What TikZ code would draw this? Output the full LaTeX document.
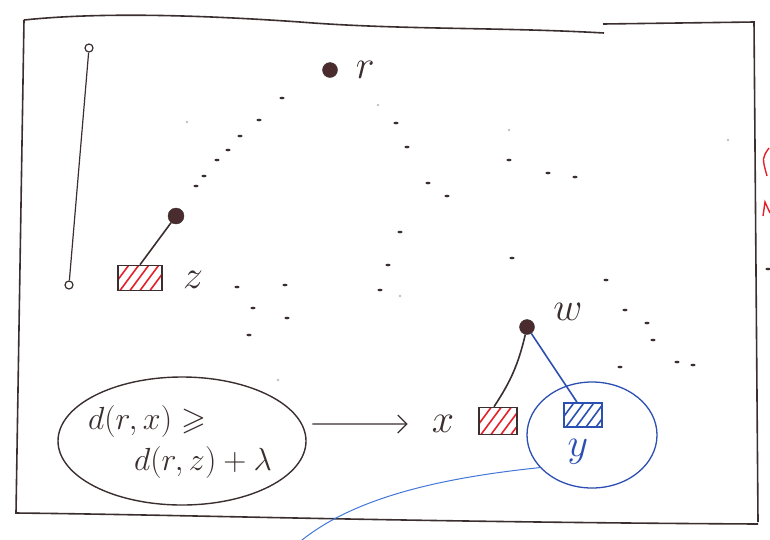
\RequirePackage{fix-cm}
\documentclass[tikz,border=0pt]{standalone}
\usepackage{amsmath,amssymb}
\usepackage{xcolor}
\usepackage{tikz}
\usetikzlibrary{arrows.meta,positioning,shapes.geometric}
\definecolor{inkdark}{HTML}{3A2E2E}
\definecolor{inkred}{HTML}{E4202C}
\definecolor{inkblue}{HTML}{2C4FB2}
\definecolor{penblue}{HTML}{4277D8}
\definecolor{dotbrown}{HTML}{4A2C2E}

\tikzset{
  vtx/.style={circle,fill=dotbrown,draw=inkdark,inner sep=0pt,minimum size=15pt},
  endpt/.style={circle,draw=inkdark,fill=white,line width=1.2pt,inner sep=0pt,minimum size=8pt},
  leafbox/.style={draw=#1,line width=1.6pt,minimum width=40pt,minimum height=25pt,inner sep=0pt},
  hatch/.style={path picture={\foreach \k in {0,...,4}{%
      \draw[#1,line width=1.6pt] ([xshift=\k*10pt-8pt]path picture bounding box.south west) -- ++(20pt,27pt);}}},
  lbl/.style={font=\fontsize{40}{44}\selectfont,text=inkdark,inner sep=2pt},
}

\begin{document}
\begin{tikzpicture}[x=1pt,y=-1pt,>={Straight Barb[length=9pt,width=18pt]}]
  \useasboundingbox (0,0) rectangle (770,539);
  % frame
  \draw[inkdark,line width=1.6pt] (24,20) .. controls (100,12) and (200,15) .. (300,22)
    .. controls (400,30) and (500,27) .. (604,33);
  \draw[inkdark,line width=1.6pt] (603,24) -- (754,22) -- (758,522);
  \draw[inkdark,line width=1.6pt] (24,20) -- (16,513) .. controls (200,515) and (400,522) .. (758,524);
  % red marks past the edge
  \draw[inkred,line width=1.4pt] (769,148) .. controls (762,158) .. (767,176);
  \draw[inkred,line width=1.4pt] (763,216) -- (765,202) -- (770,213);

  % left bar
  \node[endpt] (top) at (89,48) {};
  \node[endpt] (bot) at (69,285) {};
  \draw[inkdark,line width=1.2pt] (top) -- (bot);

  % root
  \node[vtx] (r) at (330,70) {};
  \node[lbl,right=16pt of r] (rl) {$r$};

  % z
  \node[vtx,minimum size=16pt] (zp) at (176,216) {};
  \node[leafbox=inkdark,hatch=inkred,minimum width=44pt] (zb) at (140,278) {};
  \node[lbl] (zl) at (193,280) {$z$};
  \draw[inkdark,line width=1.6pt] (zp) -- (zb.north);

  % w, x, y
  \node[vtx] (w) at (527,327) {};
  \node[lbl] (wl) at (568,312) {$w$};
  \node[leafbox=inkdark,hatch=inkred,minimum width=38pt,minimum height=27pt] (xb) at (498,421) {};
  \node[lbl] (xl) at (443,424) {$x$};
  \node[leafbox=inkblue,hatch=inkblue,minimum width=38pt,minimum height=24pt] (yb) at (583,415) {};
  \node[lbl,text=inkblue] (yl) at (578,452) {$y$};
  \draw[inkdark,line width=1.6pt] (w) to[bend left=10] ([xshift=-4pt]xb.north);
  \draw[inkblue,line width=1.6pt] (w) -- ([xshift=-6pt]yb.north);
  \node[draw=inkblue,line width=1.3pt,ellipse,minimum width=130pt,minimum height=106pt] (ycirc) at (592,435) {};
  \coordinate (tail) at (296,545);
  \draw[penblue,line width=1pt] (ycirc.212) .. controls (440,478) and (350,498) .. (tail);

  % condition
  \node[draw=inkdark,line width=1.4pt,ellipse,minimum width=248pt,minimum height=128pt] (cond) at (182,441) {};
  \node[align=left,font=\fontsize{32}{41}\selectfont,text=inkdark,inner sep=0pt] (condtxt) at (180,442)
        {$d(r,x)\geqslant$\\\hspace*{46pt}$d(r,z)+\lambda$};
  \draw[->,inkdark,line width=1.3pt,shorten <=10pt,shorten >=22pt] (cond.8) -- (xl.west);

  % sketched dotted paths
  \foreach \p in {(282,98),(259,120),(240,136),(228,150),(217,160),(204,176),(196,186),
      (396,123),(407,147),(428,183),(447,196),(400,232),(388,265),(380,290),
      (509,160),(548,173),(575,177),(512,258),(606,280),
      (237,287),(285,285),(253,308),(287,318),(249,335),
      (625,310),(647,323),(653,340),(620,367),(677,362),(693,365),(768,269)}
    \fill[inkdark] \p ellipse (2.6pt and 1.3pt);
  \foreach \p in {(378,105),(509,130),(187,122),(278,380),(400,296),(728,140)}
    \fill[gray!50] \p circle (1.4pt);
\end{tikzpicture}
\end{document}
